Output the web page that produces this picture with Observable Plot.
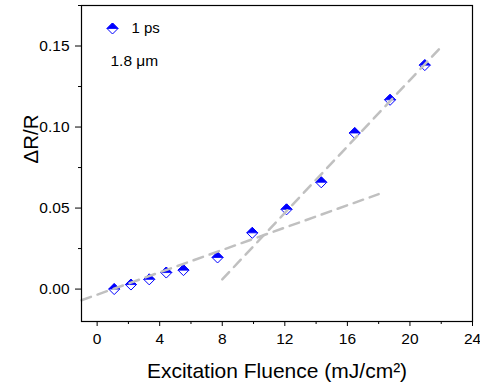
<!DOCTYPE html>
<html>
<head>
<meta charset="utf-8">
<script src="https://cdn.jsdelivr.net/npm/d3@7"></script>
<script src="https://cdn.jsdelivr.net/npm/@observablehq/plot@0.6"></script>
<style>
  html, body { margin: 0; padding: 0; background: #fff; }
  #chart { width: 480px; height: 389px; }
</style>
</head>
<body>
<div id="chart"></div>
<script>
// Data
const fluence = [1.09, 2.16, 3.33, 4.42, 5.52, 7.7, 9.92, 12.11, 14.33, 16.47, 18.73, 20.95];
const dRR = [0.0, 0.0028, 0.006, 0.0102, 0.0117, 0.0195, 0.0347, 0.0492, 0.0659, 0.0963, 0.1168, 0.1382];

// Linear guide lines (dashed)
const fitLowX = [-1, 18];
const fitLowY = [-0.0069, 0.0586];
const fitHighX = [8, 22];
const fitHighY = [0.006, 0.1495];

const xMajor = [0, 4, 8, 12, 16, 20, 24];
const xMinor = [2, 6, 10, 14, 18, 22];
const yMajor = [0, 0.05, 0.10, 0.15];
const yMinor = [0.025, 0.075, 0.125, 0.175];

const legendLabel = "1 ps";
const annotation = "1.8 \u03bcm";
const xTitle = "Excitation Fluence (mJ/cm\u00b2)";
const yTitle = "\u0394R/R";

const points = fluence.map((x, i) => ({x, y: dRR[i]}));
const low = fitLowX.map((x, i) => ({x, y: fitLowY[i]}));
const high = fitHighX.map((x, i) => ({x, y: fitHighY[i]}));

const BLUE = "#0000ff";
const upperHalf = {
  draw(ctx, size) {
    const h = Math.sqrt(size / Math.PI);
    ctx.moveTo(0, -h); ctx.lineTo(h, 0); ctx.lineTo(-h, 0); ctx.closePath();
  }
};
const diamond = {
  draw(ctx, size) {
    const h = Math.sqrt(size / Math.PI);
    ctx.moveTo(0, -h); ctx.lineTo(h, 0); ctx.lineTo(0, h); ctx.lineTo(-h, 0); ctx.closePath();
  }
};
const R = 5.5;
const dash = {stroke: "#c0c0c0", strokeWidth: 2.5, strokeDasharray: "10,7"};

const chart = Plot.plot({
  width: 480,
  height: 389,
  marginLeft: 81,
  marginRight: 8,
  marginTop: 5,
  marginBottom: 68,
  style: {fontFamily: "'Liberation Sans', Arial, sans-serif", background: "#fff", color: "#000"},
  x: {domain: [-1, 24]},
  y: {domain: [-0.02, 0.175]},
  marks: [
    Plot.dot(points, {x: "x", y: "y", r: R, symbol: diamond, stroke: BLUE, strokeWidth: 1, fill: "none"}),
    Plot.dot(points, {x: "x", y: "y", r: R, symbol: upperHalf, fill: BLUE, stroke: BLUE, strokeWidth: 0.8}),
    Plot.line(low, {x: "x", y: "y", ...dash}),
    Plot.line(high, {x: "x", y: "y", ...dash}),
    Plot.frame({stroke: "#000", strokeWidth: 1.2}),
    Plot.axisX(xMajor, {tickSize: 5, tickPadding: 6, fontSize: 15.5, label: null, tickFormat: d => String(d)}),
    Plot.axisX(xMinor, {tickSize: 3, label: null, tickFormat: () => ""}),
    Plot.axisY(yMajor, {tickSize: 6, tickPadding: 6, fontSize: 15.5, label: null, tickFormat: d3.format(".2f")}),
    Plot.axisY(yMinor, {tickSize: 3, label: null, tickFormat: () => ""}),
    // legend
    Plot.dot([0], {frameAnchor: "top-left", dx: 31, dy: 23, r: R, symbol: diamond, stroke: BLUE, strokeWidth: 1, fill: "none"}),
    Plot.dot([0], {frameAnchor: "top-left", dx: 31, dy: 23, r: R, symbol: upperHalf, fill: BLUE, stroke: BLUE, strokeWidth: 0.8}),
    Plot.text([legendLabel], {text: d => d, frameAnchor: "top-left", dx: 50, dy: 23, textAnchor: "start", lineAnchor: "middle", fontSize: 15}),
    Plot.text([annotation], {text: d => d, frameAnchor: "top-left", dx: 29, dy: 56, textAnchor: "start", lineAnchor: "middle", fontSize: 15.5}),
    // axis titles
    Plot.text([xTitle], {text: d => d, frameAnchor: "bottom", dy: 50, lineAnchor: "middle", fontSize: 21}),
    Plot.text([yTitle], {text: d => d, frameAnchor: "left", dx: -50, rotate: -90, lineAnchor: "middle", fontSize: 20.5})
  ]
});
document.getElementById("chart").appendChild(chart);
</script>
</body>
</html>
